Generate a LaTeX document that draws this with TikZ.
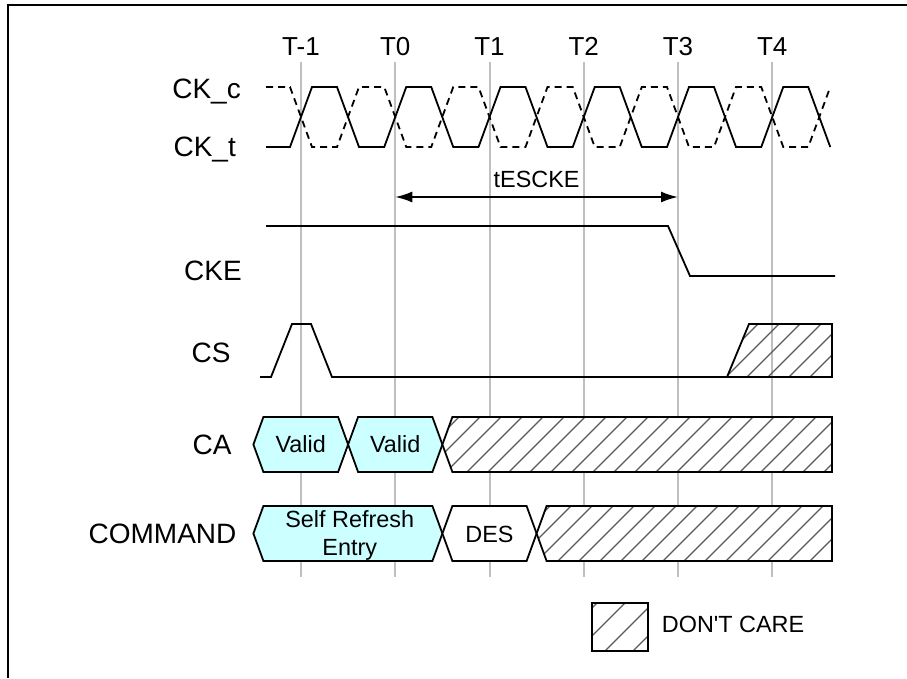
\documentclass[tikz,border=0pt]{standalone}
\usepackage{fontspec}
\setmainfont{Liberation Sans}
\usetikzlibrary{arrows.meta}
\definecolor{cyanish}{RGB}{204,255,255}
\begin{document}
\begin{tikzpicture}[x=1pt,y=-1pt,
  sig/.style={font=\fontsize{28}{30}\selectfont, inner sep=0pt, anchor=base},
  tlab/.style={font=\fontsize{26}{28}\selectfont, inner sep=0pt, anchor=base},
  btxt/.style={font=\fontsize{23.4}{27}\selectfont, inner sep=0pt, anchor=base},
  gridline/.style={draw=black!25, line width=2pt},
  wave/.style={line width=1.8pt, line join=miter},
  bus/.style={line width=1.8pt, draw=black, line join=miter},
  validbus/.style={bus, fill=cyanish},
  hatchline/.style={draw=black!65, line width=1.3pt},
  frame/.style={line width=2.5pt}
]
\useasboundingbox (0,0) rectangle (907,678);
% frame
\draw[frame] (8,678) -- (8,5) -- (907,5);

% vertical time grid
\foreach \c in {301,395.25,489.5,583.75,678,772.25}
  \draw[gridline] (\c,62) -- (\c,577);

% time labels
\node[tlab] (tm1) at (301,55) {T-1};
\node[tlab] (t0) at (395.25,55) {T0};
\node[tlab] (t1) at (489.5,55) {T1};
\node[tlab] (t2) at (583.75,55) {T2};
\node[tlab] (t3) at (678,55) {T3};
\node[tlab] (t4) at (772.25,55) {T4};

% signal labels
\node[sig, anchor=base east] (ckc) at (241,98) {CK\_c};
\node[sig, anchor=base east] (ckt) at (236,156) {CK\_t};
\node[sig] (cke) at (213,280) {CKE};
\node[sig] (cs) at (211,362) {CS};
\node[sig] (ca) at (212,454) {CA};
\node[sig] (cmd) at (162.5,543) {COMMAND};

% clocks
\draw[wave] (266,147)
  \foreach \c in {301,395.25,489.5,583.75,678,772.25}
  { -- (\c-11,147) -- (\c+11,87) -- (\c+36,87) -- (\c+58,147) };
\draw[wave, dash pattern=on 7pt off 5pt] (266,87)
  \foreach \c in {301,395.25,489.5,583.75,678,772.25}
  { -- (\c-11,87) -- (\c+11,147) -- (\c+36,147) -- (\c+58,87) };

% tESCKE
\coordinate (arrL) at (395.25,197);
\coordinate (arrR) at (678,197);
\draw[line width=1.8pt, {Latex[length=17pt,width=11pt]}-{Latex[length=17pt,width=11pt]}] (arrL) -- (arrR);
\node[btxt] (tesc) at (536.6,187) {tESCKE};

% CKE
\draw[wave] (266,226) -- (668,226) -- (690,276) -- (835,276);

% CS
\draw[wave] (260,377) -- (271,377) -- (292,324) -- (311,324) -- (332,377) -- (832,377);
\begin{scope}
  \clip (727,377) -- (749,324) -- (832,324) -- (832,377) -- cycle;
  \foreach \x in {650,671,...,850} \draw[hatchline] (\x,390) -- ++(80,-80);
\end{scope}
\draw[bus] (727,377) -- (749,324) -- (832,324) -- (832,377) -- cycle;

% CA bus
\draw[validbus] (253.4,444.5) -- (263.4,417) -- (338.1,417) -- (348.1,444.5) -- (338.1,472) -- (263.4,472) -- cycle;
\draw[validbus] (348.1,444.5) -- (358.1,417) -- (432.4,417) -- (442.4,444.5) -- (432.4,472) -- (358.1,472) -- cycle;
\fill[white] (442.4,444.5) -- (452.4,417) -- (832,417) -- (832,472) -- (452.4,472) -- cycle;
\begin{scope}
  \clip (442.4,444.5) -- (452.4,417) -- (832,417) -- (832,472) -- (452.4,472) -- cycle;
  \foreach \x in {370,391,...,850} \draw[hatchline] (\x,485) -- ++(80,-80);
\end{scope}
\draw[bus] (442.4,444.5) -- (452.4,417) -- (832,417) -- (832,472) -- (452.4,472) -- cycle;
\node[btxt] (v1) at (300.7,452.9) {Valid};
\node[btxt] (v2) at (395.2,452.9) {Valid};

% COMMAND bus
\draw[validbus] (253.4,533.5) -- (263.4,506) -- (432.4,506) -- (442.4,533.5) -- (432.4,561) -- (263.4,561) -- cycle;
\draw[bus, fill=white] (442.4,533.5) -- (452.4,506) -- (526.6,506) -- (536.6,533.5) -- (526.6,561) -- (452.4,561) -- cycle;
\fill[white] (536.6,533.5) -- (546.6,506) -- (832,506) -- (832,561) -- (546.6,561) -- cycle;
\begin{scope}
  \clip (536.6,533.5) -- (546.6,506) -- (832,506) -- (832,561) -- (546.6,561) -- cycle;
  \foreach \x in {460,481,...,850} \draw[hatchline] (\x,575) -- ++(80,-80);
\end{scope}
\draw[bus] (536.6,533.5) -- (546.6,506) -- (832,506) -- (832,561) -- (546.6,561) -- cycle;
\node[btxt] (sre1) at (349.7,527) {Self Refresh};
\node[btxt] (sre2) at (349.7,555) {Entry};
\node[btxt] (des) at (489.5,542) {DES};

% legend
\begin{scope}
  \clip (592.3,602.7) rectangle (648.3,651);
  \foreach \x in {540,568,...,660} \draw[hatchline] (\x,660) -- ++(70,-70);
\end{scope}
\node[draw, line width=1.8pt, minimum width=56pt, minimum height=48.3pt, inner sep=0pt] (leg) at (620.3,626.85) {};
\node[btxt, anchor=base west] (legt) at (661.7,632.7) {DON\textquotesingle T CARE};
\end{tikzpicture}
\end{document}
